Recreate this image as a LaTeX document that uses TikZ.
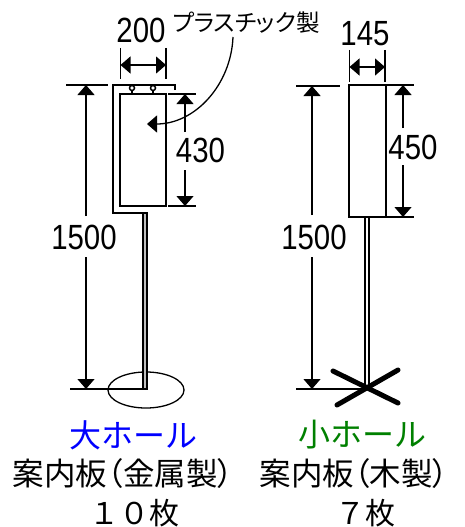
\documentclass[tikz,border=0pt]{standalone}
\usepackage{fontspec}
\usepackage{amsmath}
\usetikzlibrary{shapes.geometric, arrows.meta, positioning, calc}
\newfontfamily\cjk{Noto Sans CJK JP}
\newfontfamily\cjkp[RawFeature=+palt]{Noto Sans CJK JP}
\newfontfamily\dimfont[FakeStretch=0.84]{Liberation Sans}
\definecolor{holeblue}{RGB}{0,0,255}
\definecolor{holegreen}{RGB}{0,128,0}
\tikzset{
  dimtext/.style={font=\dimfont\fontsize{35}{35}\selectfont, inner sep=0pt},
  titletext/.style={font=\cjk\fontsize{32}{32}\selectfont, inner sep=0pt},
  counttext/.style={font=\cjk\fontsize{30}{30}\selectfont, inner sep=0pt},
  boardtext/.style={font=\cjkp\fontsize{31.5}{31.5}\selectfont, inner sep=0pt},
  dimline/.style={line width=1.3pt},
  dimtip/.style={-{Triangle[length=10pt,width=17pt]}, line width=1.3pt},
  bothtip/.style={{Triangle[length=10pt,width=17pt]}-{Triangle[length=10pt,width=17pt]}, line width=1.3pt},
  bodyline/.style={line width=1.5pt}
}

\begin{document}
\begin{tikzpicture}[x=1pt, y=-1pt]
\useasboundingbox (0,0) rectangle (465,527);

% Large hole board: base and pole
\node[draw, line width=1.3pt, ellipse, minimum width=76pt, minimum height=36pt, inner sep=0pt] (baseL) at (146,390) {};
\node[draw, line width=1.2pt, fill=gray!50, minimum width=4pt, minimum height=176pt, inner sep=0pt] (poleL) at (145,301) {};

% Bracket
\draw[bodyline] (175,90) -- (175,85) -- (113,85) -- (113,213) -- (147,213);

% Hooks
\node[draw, bodyline, fill=white, circle, minimum size=5pt, inner sep=0pt] (hookA) at (132,88) {};
\node[draw, bodyline, fill=white, circle, minimum size=5pt, inner sep=0pt] (hookB) at (153,88) {};
\draw[bodyline] (hookA) -- (132,94);
\draw[bodyline] (hookB) -- (153,94);

% Panel
\node[draw, bodyline, minimum width=46pt, minimum height=112pt, inner sep=0pt] (panelL) at (143,150) {};

% Width 200
\coordinate (tickLa) at (120.5,48);
\coordinate (tickLb) at (120.5,79);
\coordinate (tickRa) at (166,48);
\coordinate (tickRb) at (166,79);
\coordinate (arrLa) at (120.5,65);
\coordinate (arrLb) at (166,65);
\draw[dimline] (tickLa) -- (tickLb);
\draw[dimline] (tickRa) -- (tickRb);
\draw[bothtip] (arrLa) -- (arrLb);
\node[dimtext] (w200) at (141,30) {200};

% Height 430
\coordinate (extAa) at (168,94);
\coordinate (extAb) at (196,94);
\coordinate (extBa) at (168,206);
\coordinate (extBb) at (196,206);
\coordinate (arrAtop) at (185,94);
\coordinate (arrAbot) at (185,206);
\draw[dimline] (extAa) -- (extAb);
\draw[dimline] (extBa) -- (extBb);
\node[dimtext] (h430) at (200.5,150) {430};
\draw[dimtip] (185,132) -- (arrAtop);
\draw[dimtip] (185,170) -- (arrAbot);

% Height 1500, left
\coordinate (extCa) at (66,85);
\coordinate (extCb) at (108,85);
\coordinate (extDa) at (70,389);
\coordinate (extDb) at (147,389);
\coordinate (arrCtop) at (86,85);
\coordinate (arrCbot) at (86,389);
\draw[dimline] (extCa) -- (extCb);
\draw[dimline] (extDa) -- (extDb);
\node[dimtext] (h1500L) at (84,237) {1500};
\draw[dimtip] (86,216) -- (arrCtop);
\draw[dimtip] (86,257) -- (arrCbot);

% Material note
\node[font=\cjkp\fontsize{23.5}{23.5}\selectfont, inner sep=0pt] (note) at (246,23) {プラスチック製};
\coordinate (noteEnd) at (147,124);
\draw[dimtip] (233,37) .. controls (231,85) and (195,124) .. (noteEnd);

% Small hole board: pole and panel
\node[draw, line width=1.2pt, fill=white, minimum width=4pt, minimum height=172pt, inner sep=0pt] (poleR) at (367,303) {};
\node[draw, bodyline, minimum width=37pt, minimum height=132pt, inner sep=0pt] (panelR) at (367.5,151) {};

% Cross foot
\coordinate (footA) at (333,371);
\coordinate (footB) at (398,403);
\coordinate (footC) at (337,405);
\coordinate (footD) at (398,370);
\draw[line width=5pt, line cap=round] (footA) -- (footB);
\draw[line width=5pt, line cap=round] (footC) -- (footD);

% Width 145
\coordinate (tickMa) at (349.5,50);
\coordinate (tickMb) at (349.5,82);
\coordinate (tickNa) at (385,50);
\coordinate (tickNb) at (385,82);
\coordinate (arrMa) at (349.5,67);
\coordinate (arrMb) at (385,67);
\draw[dimline] (tickMa) -- (tickMb);
\draw[dimline] (tickNa) -- (tickNb);
\draw[bothtip] (arrMa) -- (arrMb);
\node[dimtext] (w145) at (365,34) {145};

% Height 450
\coordinate (extEa) at (386,85);
\coordinate (extEb) at (414,85);
\coordinate (extFa) at (386,217);
\coordinate (extFb) at (414,217);
\coordinate (arrEtop) at (403,85);
\coordinate (arrEbot) at (403,217);
\draw[dimline] (extEa) -- (extEb);
\draw[dimline] (extFa) -- (extFb);
\node[dimtext] (h450) at (413,147) {450};
\draw[dimtip] (403,128) -- (arrEtop);
\draw[dimtip] (403,165) -- (arrEbot);

% Height 1500, right
\coordinate (extGa) at (296,86);
\coordinate (extGb) at (340,86);
\coordinate (extHa) at (296,389);
\coordinate (extHb) at (365,389);
\coordinate (arrGtop) at (312,86);
\coordinate (arrGbot) at (312,389);
\draw[dimline] (extGa) -- (extGb);
\draw[dimline] (extHa) -- (extHb);
\node[dimtext] (h1500R) at (314,237) {1500};
\draw[dimtip] (312,215) -- (arrGtop);
\draw[dimtip] (312,257) -- (arrGbot);

% Captions
\node[titletext, text=holeblue] (titleL) at (133,435) {大ホール};
\node[boardtext] (boardL) at (123,474) {案内板（金属製）};
\node[counttext] (countL) at (134,513) {１０枚};
\node[titletext, text=holegreen] (titleR) at (362,435) {小ホール};
\node[boardtext] (boardR) at (354,474) {案内板（木製）};
\node[counttext] (countR) at (365,513) {７枚};
\end{tikzpicture}
\end{document}
